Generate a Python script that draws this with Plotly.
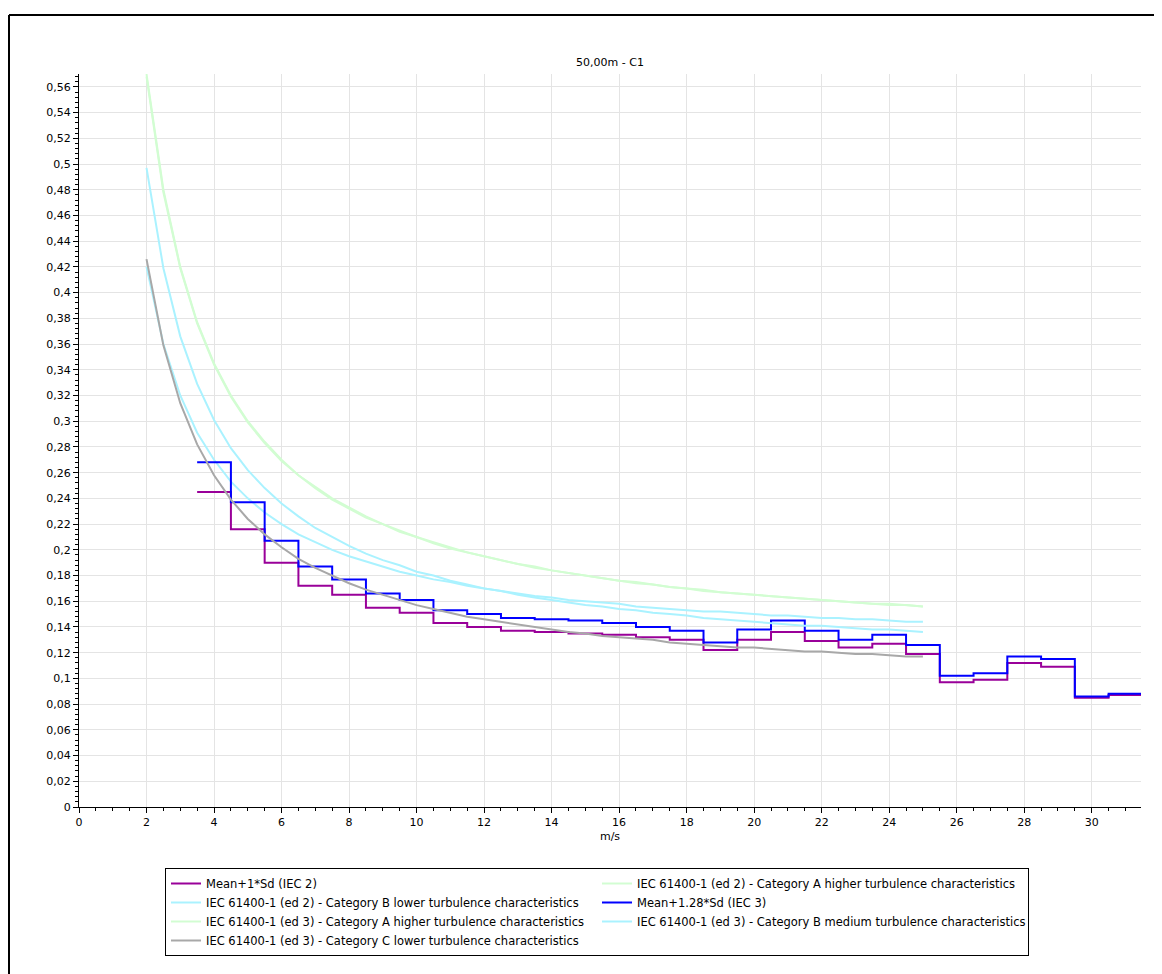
import numpy as np
import plotly.graph_objects as go

# ---------------- data ----------------
# wind-speed bin centres (m/s) for the measured series
ws_bins = [4, 5, 6, 7, 8, 9, 10, 11, 12, 13, 14, 15, 16, 17, 18, 19, 20,
           21, 22, 23, 24, 25, 26, 27, 28, 29, 30, 31]
mean_1sd = [0.245, 0.216, 0.190, 0.172, 0.165, 0.155, 0.151, 0.143, 0.140, 0.137,
            0.136, 0.135, 0.134, 0.132, 0.130, 0.122, 0.130, 0.136, 0.129, 0.124,
            0.127, 0.119, 0.097, 0.099, 0.112, 0.109, 0.085, 0.087]
mean_128sd = [0.268, 0.237, 0.207, 0.187, 0.177, 0.166, 0.161, 0.153, 0.150, 0.147,
              0.146, 0.145, 0.143, 0.140, 0.137, 0.128, 0.138, 0.145, 0.137, 0.130,
              0.134, 0.126, 0.102, 0.104, 0.117, 0.115, 0.086, 0.088]

# IEC reference curves, read at 0.5 m/s steps from 2 to 25 m/s
ws_iec = [2, 2.5, 3, 3.5, 4, 4.5, 5, 5.5, 6, 6.5, 7, 7.5, 8, 8.5, 9, 9.5, 10,
          10.5, 11, 11.5, 12, 12.5, 13, 13.5, 14, 14.5, 15, 15.5, 16, 16.5, 17,
          17.5, 18, 18.5, 19, 19.5, 20, 20.5, 21, 21.5, 22, 22.5, 23, 23.5, 24,
          24.5, 25]
ed2_A = [0.570, 0.480, 0.420, 0.377, 0.345, 0.320, 0.300, 0.284, 0.270, 0.258,
         0.249, 0.240, 0.233, 0.226, 0.220, 0.215, 0.210, 0.206, 0.202, 0.198,
         0.195, 0.192, 0.189, 0.187, 0.184, 0.182, 0.180, 0.178, 0.176, 0.175,
         0.173, 0.171, 0.170, 0.169, 0.167, 0.166, 0.165, 0.164, 0.163, 0.162,
         0.161, 0.160, 0.159, 0.158, 0.158, 0.157, 0.156]
ed2_B = [0.420, 0.360, 0.320, 0.291, 0.270, 0.253, 0.240, 0.229, 0.220, 0.212,
         0.206, 0.200, 0.195, 0.191, 0.187, 0.183, 0.180, 0.177, 0.175, 0.172,
         0.170, 0.168, 0.166, 0.164, 0.163, 0.161, 0.160, 0.159, 0.158, 0.156,
         0.155, 0.154, 0.153, 0.152, 0.152, 0.151, 0.150, 0.149, 0.149, 0.148,
         0.147, 0.147, 0.146, 0.146, 0.145, 0.144, 0.144]
ed3_A = [0.568, 0.478, 0.419, 0.376, 0.344, 0.319, 0.299, 0.283, 0.269, 0.258,
         0.248, 0.239, 0.232, 0.225, 0.220, 0.214, 0.210, 0.205, 0.201, 0.198,
         0.195, 0.192, 0.189, 0.186, 0.184, 0.182, 0.180, 0.178, 0.176, 0.174,
         0.173, 0.171, 0.170, 0.168, 0.167, 0.166, 0.165, 0.164, 0.163, 0.162,
         0.161, 0.160, 0.159, 0.158, 0.157, 0.157, 0.156]
ed3_B = [0.497, 0.419, 0.366, 0.329, 0.301, 0.279, 0.262, 0.248, 0.236, 0.226,
         0.217, 0.210, 0.203, 0.197, 0.192, 0.188, 0.183, 0.180, 0.176, 0.173,
         0.170, 0.168, 0.165, 0.163, 0.161, 0.159, 0.157, 0.156, 0.154, 0.153,
         0.151, 0.150, 0.149, 0.147, 0.146, 0.145, 0.144, 0.143, 0.142, 0.141,
         0.141, 0.140, 0.139, 0.138, 0.138, 0.137, 0.136]
ed3_C = [0.426, 0.359, 0.314, 0.282, 0.258, 0.239, 0.224, 0.212, 0.202, 0.193,
         0.186, 0.180, 0.174, 0.169, 0.165, 0.161, 0.157, 0.154, 0.151, 0.148,
         0.146, 0.144, 0.142, 0.140, 0.138, 0.136, 0.135, 0.133, 0.132, 0.131,
         0.130, 0.128, 0.127, 0.126, 0.125, 0.124, 0.124, 0.123, 0.122, 0.121,
         0.121, 0.120, 0.119, 0.119, 0.118, 0.117, 0.117]

x_tick_vals = [0, 2, 4, 6, 8, 10, 12, 14, 16, 18, 20, 22, 24, 26, 28, 30]
x_tick_text = ["0", "2", "4", "6", "8", "10", "12", "14", "16", "18", "20",
               "22", "24", "26", "28", "30"]
y_tick_vals = [0, 0.02, 0.04, 0.06, 0.08, 0.1, 0.12, 0.14, 0.16, 0.18, 0.2,
               0.22, 0.24, 0.26, 0.28, 0.3, 0.32, 0.34, 0.36, 0.38, 0.4, 0.42,
               0.44, 0.46, 0.48, 0.5, 0.52, 0.54, 0.56]
y_tick_text = ["0", "0,02", "0,04", "0,06", "0,08", "0,1", "0,12", "0,14",
               "0,16", "0,18", "0,2", "0,22", "0,24", "0,26", "0,28", "0,3",
               "0,32", "0,34", "0,36", "0,38", "0,4", "0,42", "0,44", "0,46",
               "0,48", "0,5", "0,52", "0,54", "0,56"]

title_text = "50,00m - C1"
x_title = "m/s"

# ---------------- styles ----------------
PURPLE = "#990099"
BLUE = "#0000ff"
GREEN = "#d2fdd2"
CYAN = "#aaf2ff"
GREY = "#a8a8a8"
FONT = "DejaVu Sans"

# figure size accounts for the 8 px default page margin
W, H = 1154, 966
L, T = 71, 66           # plot-area left / top in figure pixels
PW, PH = 1062, 733      # plot-area width / height

# bin edges for step drawing (each bin spans centre +/- 0.5)
centres = np.array(ws_bins, dtype=float)
edges = np.append(centres - 0.5, centres[-1] + 0.5)


def step_y(vals):
    return list(vals) + [vals[-1]]


fig = go.Figure()
fig.add_trace(go.Scatter(x=edges, y=step_y(mean_1sd), mode="lines", line_shape="hv",
                         line=dict(color=PURPLE, width=2), name="Mean+1*Sd (IEC 2)"))
fig.add_trace(go.Scatter(x=ws_iec, y=ed2_A, mode="lines",
                         line=dict(color=GREEN, width=2),
                         name="IEC 61400-1 (ed 2) - Category A higher turbulence characteristics"))
fig.add_trace(go.Scatter(x=ws_iec, y=ed2_B, mode="lines",
                         line=dict(color=CYAN, width=2),
                         name="IEC 61400-1 (ed 2) - Category B lower turbulence characteristics"))
fig.add_trace(go.Scatter(x=edges, y=step_y(mean_128sd), mode="lines", line_shape="hv",
                         line=dict(color=BLUE, width=2), name="Mean+1.28*Sd (IEC 3)"))
fig.add_trace(go.Scatter(x=ws_iec, y=ed3_A, mode="lines",
                         line=dict(color=GREEN, width=2),
                         name="IEC 61400-1 (ed 3) - Category A higher turbulence characteristics"))
fig.add_trace(go.Scatter(x=ws_iec, y=ed3_B, mode="lines",
                         line=dict(color=CYAN, width=2),
                         name="IEC 61400-1 (ed 3) - Category B medium turbulence characteristics"))
fig.add_trace(go.Scatter(x=ws_iec, y=ed3_C, mode="lines",
                         line=dict(color=GREY, width=2),
                         name="IEC 61400-1 (ed 3) - Category C lower turbulence characteristics"))

axis_common = dict(
    showgrid=True, gridcolor="#e4e4e4", gridwidth=1,
    showline=True, linecolor="black", linewidth=1,
    ticks="outside", ticklen=5, tickcolor="black", tickwidth=1,
    zeroline=False, tickfont=dict(family=FONT, size=11, color="black"),
)

fig.update_layout(
    width=W, height=H,
    margin=dict(l=L, r=W - L - PW, t=T, b=H - T - PH),
    paper_bgcolor="white", plot_bgcolor="white",
    separators=",.",
    font=dict(family=FONT, size=11, color="black"),
    title=dict(text=title_text, x=0.5, xref="paper", xanchor="center",
               y=1 - 54 / H, yref="container", yanchor="middle",
               font=dict(family=FONT, size=11, color="black")),
    xaxis=dict(range=[0, 31.46], tickmode="array", tickvals=x_tick_vals,
               ticktext=x_tick_text,
               title=dict(text=x_title, standoff=4, font=dict(family=FONT, size=11)),
               minor=dict(tickmode="linear", tick0=0, dtick=0.5, ticks="outside",
                          ticklen=3, tickcolor="black", showgrid=False),
               **axis_common),
    yaxis=dict(range=[0, 0.57], tickmode="array", tickvals=y_tick_vals,
               ticktext=y_tick_text,
               minor=dict(tickmode="linear", tick0=0, dtick=0.004, ticks="outside",
                          ticklen=3, tickcolor="black", showgrid=False),
               **axis_common),
    legend=dict(orientation="h", x=(157 - L) / PW, y=-(860 - (T + PH)) / PH,
                xanchor="left", yanchor="top",
                bordercolor="black", borderwidth=1, bgcolor="white",
                font=dict(family=FONT, size=11.5, color="black"),
                entrywidth=386, entrywidthmode="pixels", itemwidth=30,
                tracegroupgap=0, traceorder="normal"),
    showlegend=True,
)

# outer frame (left and top edges visible in the reference)
fx = (1 - L) / PW
fy = (T + PH - 7) / PH
fig.add_shape(type="line", xref="paper", yref="paper",
              x0=fx, x1=fx, y0=fy, y1=(T + PH - (H + 20)) / PH,
              line=dict(color="black", width=2))
fig.add_shape(type="line", xref="paper", yref="paper",
              x0=fx, x1=(W + 20 - L) / PW, y0=fy, y1=fy,
              line=dict(color="black", width=2))

fig.write_html("out.html")
